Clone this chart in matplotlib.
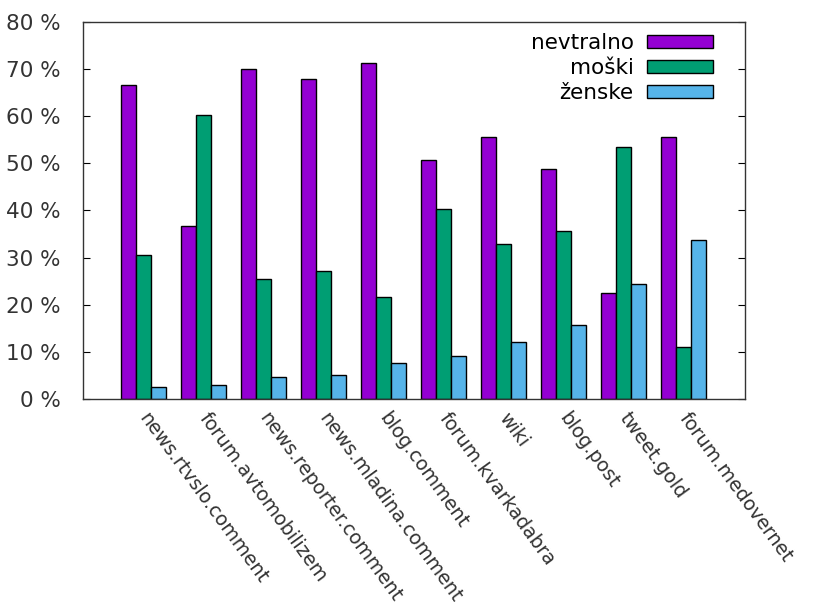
import numpy as np
import matplotlib.pyplot as plt
from matplotlib.patches import Patch

categories = ['news.rtvslo.comment', 'forum.avtomobilizem', 'news.reporter.comment',
              'news.mladina.comment', 'blog.comment', 'forum.kvarkadabra', 'wiki',
              'blog.post', 'tweet.gold', 'forum.medovernet']
nevtralno = [66.7, 36.7, 70.0, 67.9, 71.2, 50.7, 55.5, 48.7, 22.4, 55.5]
moski = [30.6, 60.3, 25.4, 27.2, 21.6, 40.3, 32.9, 35.6, 53.4, 11.1]
zenske = [2.6, 3.0, 4.7, 5.0, 7.6, 9.1, 12.0, 15.8, 24.5, 33.8]
series_names = ['nevtralno', 'moški', 'ženske']
colors = ['#9400D3', '#009E73', '#56B4E9']

plt.rcParams['font.family'] = 'DejaVu Sans'
plt.rcParams['font.size'] = 15.5

fig = plt.figure(figsize=(8.35, 6.06), dpi=100)
ax = fig.add_axes([0.0994, 0.3416, 0.7928, 0.6221])

x = np.arange(len(categories))
w = 0.25
for i, vals in enumerate([nevtralno, moski, zenske]):
    ax.bar(x + (i - 1) * w, vals, w, color=colors[i], edgecolor='black', linewidth=1.0)

ax.set_xlim(-1.0, 10.03)
ax.set_ylim(0, 80)
ax.set_yticks(np.arange(0, 81, 10))
ax.set_yticklabels([f'{v} %' for v in range(0, 81, 10)], color='#333333')
ax.set_xticks(x)
ax.set_xticklabels(categories, rotation=-54, ha='left', va='center',
                   rotation_mode='anchor', color='#333333', fontsize=13.8)
ax.tick_params(axis='y', direction='in', length=5, right=True, pad=16)
ax.tick_params(axis='x', direction='in', length=0, pad=11)
for s in ax.spines.values():
    s.set_linewidth(1.0)
    s.set_color('#333333')

handles = [Patch(facecolor=c, edgecolor='black', linewidth=1.0) for c in colors]
ax.legend(handles, series_names, loc='upper right', frameon=False, markerfirst=False,
          handlelength=3.1, handleheight=0.55, labelspacing=0.22, handletextpad=0.6,
          borderaxespad=0.3, bbox_to_anchor=(0.975, 1.01))

fig.savefig('out.png', dpi=100)
